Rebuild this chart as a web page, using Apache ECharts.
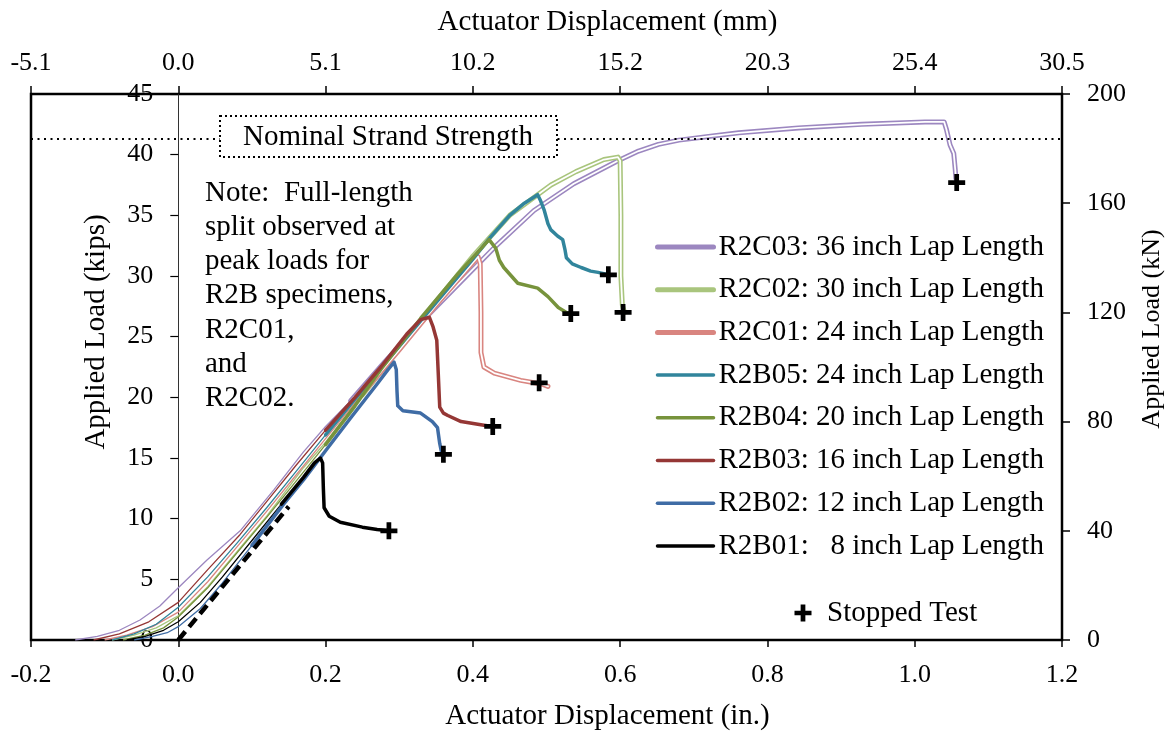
<!DOCTYPE html>
<html>
<head>
<meta charset="utf-8">
<script src="https://cdn.jsdelivr.net/npm/echarts@6/dist/echarts.min.js"></script>
<style>html,body{margin:0;padding:0;background:#fff}#c{width:1175px;height:734px}</style>
</head>
<body>
<div id="c"></div>
<script>
// ---- data (inches, kips) ----
const seriesNames = ['R2C03: 36 inch Lap Length','R2C02: 30 inch Lap Length','R2C01: 24 inch Lap Length','R2B05: 24 inch Lap Length','R2B04: 20 inch Lap Length','R2B03: 16 inch Lap Length','R2B02: 12 inch Lap Length','R2B01:   8 inch Lap Length'];
const mmTickLabels = ['-5.1','0.0','5.1','10.2','15.2','20.3','25.4','30.5'];
const nominalStrandStrength = 41.3;
const dashedReference = [[0,0],[0.15,11.0]];
// initial (seating) portions of each curve, drawn thin
const r2c03Preload = [[-0.14,0],[-0.11,0.3],[-0.08,0.8],[-0.052,1.65],[-0.025,2.8],[0,4.3],[0.039,6.6],[0.084,9.0],[0.13,12.4],[0.17,15.5],[0.2,17.6],[0.234,19.7]];
const r2c02Preload = [[-0.09,0],[-0.06,0.4],[-0.03,1.0],[0,2.0],[0.04,4.4],[0.08,7.3],[0.12,10.2],[0.17,14.2],[0.2,16.3],[0.25,20.2]];
const r2c01Preload = [[-0.1,0],[-0.07,0.4],[-0.035,1.1],[0,2.3],[0.04,4.8],[0.08,7.7],[0.12,10.6],[0.16,13.6],[0.2,16.6],[0.25,20.3]];
const r2b05Preload = [[-0.09,0],[-0.06,0.5],[-0.03,1.3],[0,2.7],[0.04,5.2],[0.08,8.0],[0.12,10.9],[0.16,13.9],[0.2,16.9]];
const r2b04Preload = [[-0.075,0],[-0.045,0.4],[-0.02,1.0],[0,1.9],[0.04,4.3],[0.08,7.2],[0.12,10.1],[0.16,13.1],[0.2,16.1]];
const r2b03Preload = [[-0.115,0],[-0.08,0.5],[-0.04,1.5],[0,3.1],[0.04,5.8],[0.084,8.7],[0.12,11.4],[0.16,14.4],[0.2,17.3]];
const r2b02Preload = [[-0.06,0],[-0.035,0.3],[-0.015,0.6],[0,1.1],[0.03,2.6],[0.06,4.7],[0.1,7.8]];
const r2b01Preload = [[-0.07,0],[-0.045,0.3],[-0.02,0.8],[0,1.5],[0.03,3.1],[0.06,5.2],[0.1,8.2],[0.14,11.2]];
// main portions of each curve
const r2c03 = [[0.234,19.7],[0.28,22.9],[0.33,26.2],[0.38,29.3],[0.43,32.4],[0.483,35.4],[0.537,37.6],[0.597,39.5],[0.625,40.3],[0.652,40.85],[0.68,41.2],[0.72,41.5],[0.761,41.8],[0.842,42.2],[0.928,42.5],[1.014,42.7],[1.04,42.7],[1.043,42.1],[1.048,40.8],[1.053,40.1],[1.055,38.8],[1.056,38.0]];
const r2c02 = [[0.25,20.2],[0.3,24.0],[0.35,27.9],[0.401,31.7],[0.45,35.0],[0.506,37.5],[0.54,38.6],[0.578,39.6],[0.597,39.8],[0.600,39.5],[0.601,35.0],[0.601,30.0],[0.603,27.6],[0.606,27.0]];
const r2c01 = [[0.25,20.3],[0.3,23.9],[0.35,27.6],[0.39,30.4],[0.407,31.6],[0.410,31.0],[0.411,27.0],[0.411,23.7],[0.415,22.5],[0.429,22.0],[0.465,21.4],[0.493,21.1],[0.502,20.9]];
const r2b05 = [[0.2,16.9],[0.25,20.6],[0.3,24.2],[0.35,27.8],[0.4,31.4],[0.424,33.2],[0.45,35.0],[0.47,36.0],[0.488,36.7],[0.492,36.2],[0.497,35.4],[0.502,34.3],[0.506,33.8],[0.515,33.3],[0.522,33.0],[0.525,32.2],[0.527,31.5],[0.535,31.0],[0.547,30.7],[0.56,30.4],[0.57,30.3],[0.584,30.1]];
const r2b04 = [[0.2,16.1],[0.24,19.3],[0.275,22.3],[0.329,26.5],[0.38,30.2],[0.41,32.2],[0.422,33.0],[0.431,32.3],[0.436,31.3],[0.442,30.7],[0.461,29.4],[0.488,29.0],[0.502,28.3],[0.516,27.4],[0.527,27.0],[0.533,26.9]];
const r2b03 = [[0.2,17.3],[0.24,20.0],[0.275,22.5],[0.31,25.2],[0.329,26.4],[0.341,26.6],[0.346,25.8],[0.351,24.7],[0.353,22.0],[0.355,19.2],[0.36,18.7],[0.366,18.5],[0.384,18.0],[0.415,17.7],[0.427,17.6]];
const r2b02 = [[0.1,7.8],[0.143,11.2],[0.17,13.2],[0.2,15.6],[0.234,18.3],[0.27,21.1],[0.285,22.3],[0.293,22.9],[0.296,22.3],[0.297,20.5],[0.298,19.3],[0.305,18.9],[0.329,18.7],[0.345,18.0],[0.352,17.5],[0.355,16.2],[0.357,15.6],[0.36,15.3]];
const r2b01 = [[0.14,11.2],[0.17,13.4],[0.185,14.6],[0.193,15.0],[0.196,14.6],[0.197,12.5],[0.198,10.9],[0.205,10.2],[0.22,9.7],[0.25,9.3],[0.27,9.1],[0.286,9.0]];
const stoppedTests = [[0.286,9.0],[0.360,15.3],[0.427,17.6],[0.490,21.2],[0.533,26.9],[0.584,30.1],[0.604,27.0],[1.057,37.7]];
const noteText = 'Note:  Full-length\nsplit observed at\npeak loads for\nR2B specimens,\nR2C01,\nand\nR2C02.';

// ---- chart ----
const FONT = "'Liberation Serif','Times New Roman',serif";
const colors = ['#9C87C0','#A9C57D','#D98580','#31859C','#77933C','#953735','#3F6CA5','#000000'];
const mainSets = [r2c03, r2c02, r2c01, r2b05, r2b04, r2b03, r2b02, r2b01];
const preloadSets = [r2c03Preload, r2c02Preload, r2c01Preload, r2b05Preload, r2b04Preload, r2b03Preload, r2b02Preload, r2b01Preload];
const doubleLine = [true, true, true, false, false, false, false, false];
const plusPath = 'path://M6.5,0h5v6.5h6.5v5h-6.5v6.5h-5v-6.5h-6.5v-5h6.5z';

const series = [];
preloadSets.forEach((d, i) => {
  series.push({
    name: seriesNames[i] + ' preload', type: 'line', data: d, symbol: 'none', silent: true,
    lineStyle: {color: colors[i], width: 1.3, join: 'round'}, z: 2
  });
});
mainSets.forEach((d, i) => {
  series.push({
    name: seriesNames[i], type: 'line', data: d, symbol: 'none', showSymbol: false,
    lineStyle: {color: colors[i], width: doubleLine[i] ? 5 : 3.5, join: 'round', cap: 'round'},
    itemStyle: {color: colors[i]}, z: 3 + i * 0.01
  });
  if (doubleLine[i]) {
    series.push({
      name: seriesNames[i] + ' core', type: 'line', data: d, symbol: 'none', silent: true,
      lineStyle: {color: '#fff', width: 1.8, join: 'round', cap: 'round'}, z: 3 + i * 0.01 + 0.005
    });
  }
});
series.push({
  name: 'ref', type: 'line', data: dashedReference, showSymbol: false, symbol: 'none', silent: true,
  lineStyle: {color: '#000', width: 4.5, type: [11, 6]}, z: 4,
  markLine: {silent: true, symbol: ['none','none'], label: {show: false},
    lineStyle: {color: '#000', width: 2, type: [2, 4.5]}, data: [{yAxis: nominalStrandStrength}], animation: false}
});
series.push({
  name: 'Stopped Test', type: 'scatter', data: stoppedTests, symbol: plusPath, symbolSize: 17,
  itemStyle: {color: '#000', opacity: 1}, z: 5
});

const legendItems = seriesNames.map((n, i) => ({name: n, lineStyle: {width: doubleLine[i] ? 5 : 3.5, color: colors[i]}}));

const chart = echarts.init(document.getElementById('c'), null, {renderer: 'canvas'});
chart.setOption({
  animation: false,
  backgroundColor: '#fff',
  textStyle: {fontFamily: FONT},
  grid: {left: 31, right: 113, top: 94, bottom: 94, containLabel: false, outerBoundsMode: 'none',
    show: true, borderColor: '#000', borderWidth: 2.5, backgroundColor: 'transparent'},
  xAxis: [{
    type: 'value', min: -0.2, max: 1.2, interval: 0.2, position: 'bottom',
    name: 'Actuator Displacement (in.)', nameLocation: 'middle', nameGap: 62,
    nameTextStyle: {fontFamily: FONT, fontSize: 29, color: '#000', padding: [0,0,0,122]},
    axisLine: {show: false, onZero: false},
    axisTick: {show: true, length: 7, lineStyle: {color: '#000', width: 1.5}},
    axisLabel: {fontFamily: FONT, fontSize: 26, color: '#000', margin: 22, formatter: v => v.toFixed(1)},
    splitLine: {show: false}
  }, {
    type: 'value', min: -0.2, max: 1.2, interval: 0.2, position: 'top',
    name: 'Actuator Displacement (mm)', nameLocation: 'middle', nameGap: 57,
    nameTextStyle: {fontFamily: FONT, fontSize: 29, color: '#000', padding: [0,0,0,122]},
    axisLine: {show: false, onZero: false},
    axisTick: {show: true, length: 8, lineStyle: {color: '#000', width: 1.5}},
    axisLabel: {fontFamily: FONT, fontSize: 26, color: '#000', margin: 18, formatter: (v, i) => mmTickLabels[i]},
    splitLine: {show: false}
  }],
  yAxis: [{
    type: 'value', min: 0, max: 45, interval: 5, position: 'left', offset: -147.3,
    name: 'Applied Load (kips)', nameLocation: 'middle', nameGap: 67,
    nameTextStyle: {fontFamily: FONT, fontSize: 29, color: '#000', padding: [0,0,0,70]},
    axisLine: {show: true, onZero: false, lineStyle: {color: '#333', width: 1}},
    axisTick: {show: true, length: 8, lineStyle: {color: '#000', width: 1.2}},
    axisLabel: {fontFamily: FONT, fontSize: 26, color: '#000', margin: 25},
    splitLine: {show: false}
  }, {
    type: 'value', min: 0, max: 200, interval: 40, position: 'right',
    name: 'Applied Load (kN)', nameLocation: 'middle', nameGap: 77,
    nameTextStyle: {fontFamily: FONT, fontSize: 26, color: '#000', padding: [0,0,0,76]},
    axisLine: {show: false, onZero: false},
    axisTick: {show: true, length: 8, lineStyle: {color: '#000', width: 1.5}},
    axisLabel: {fontFamily: FONT, fontSize: 26, color: '#000', margin: 25},
    splitLine: {show: false}
  }],
  legend: [{
    data: legendItems, orient: 'vertical', left: 655, top: 232, padding: 0, itemWidth: 56, itemHeight: 14, itemGap: 12.7,
    selectedMode: false, itemStyle: {opacity: 0},
    textStyle: {fontFamily: FONT, fontSize: 29, color: '#000', lineHeight: 30}
  }, {
    data: [{name: 'Stopped Test', icon: plusPath}], orient: 'vertical', left: 794.5, top: 598, padding: 0, itemWidth: 17, itemHeight: 17,
    selectedMode: false, itemStyle: {opacity: 1},
    textStyle: {fontFamily: FONT, fontSize: 29, color: '#000', lineHeight: 30, padding: [0,0,0,10.5]}
  }],
  graphic: [{
    type: 'rect', shape: {x: 220, y: 116, width: 337, height: 41}, z: 100,
    style: {fill: '#fff', stroke: '#000', lineWidth: 2, lineDash: [2, 3]}
  }, {
    type: 'text', x: 388, y: 137, z: 101,
    style: {text: 'Nominal Strand Strength', font: '29px ' + FONT, fill: '#000', align: 'center', verticalAlign: 'middle'}
  }, {
    type: 'text', x: 205, y: 176, z: 101,
    style: {text: noteText, font: '29px ' + FONT, fill: '#000', lineHeight: 34.2, align: 'left', verticalAlign: 'top'}
  }],
  series: series
});
</script>
</body>
</html>
